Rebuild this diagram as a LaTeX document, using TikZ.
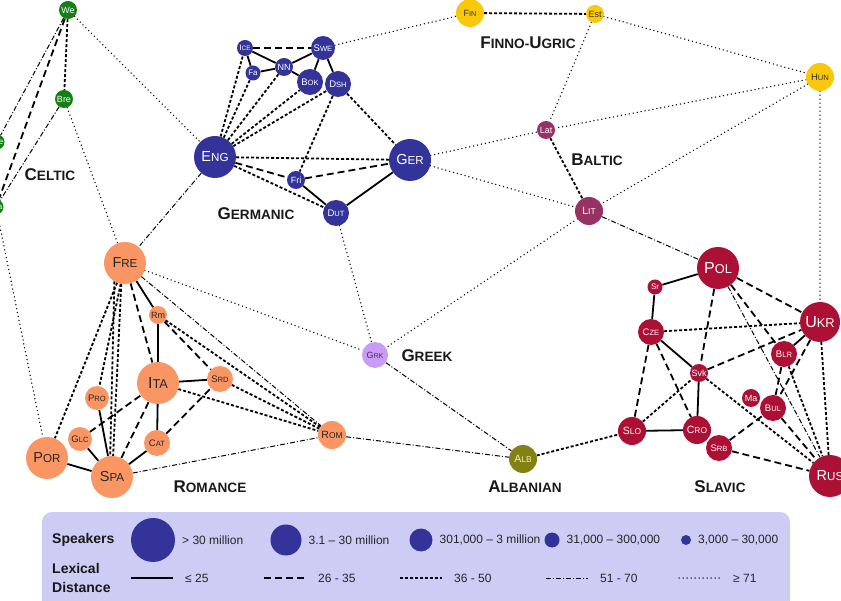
\documentclass[tikz,border=0pt]{standalone}
\usepackage{fontspec}
\setmainfont{Liberation Sans}
\usetikzlibrary{backgrounds}

\definecolor{germanic}{RGB}{51,51,153}
\definecolor{romance}{RGB}{250,150,100}
\definecolor{slavic}{RGB}{172,16,52}
\definecolor{celtic}{RGB}{18,128,18}
\definecolor{finnic}{RGB}{250,200,10}
\definecolor{baltic}{RGB}{150,50,100}
\definecolor{greek}{RGB}{200,155,245}
\definecolor{greektext}{RGB}{80,40,110}
\definecolor{albanian}{RGB}{130,130,20}
\definecolor{albaniantext}{RGB}{240,240,180}
\definecolor{legendbg}{RGB}{204,204,245}

\newcommand\fsc[2]{#1\scalebox{0.8}{#2}}

\begin{document}
\begin{tikzpicture}[x=1pt, y=-1pt,
  lang/.style = {shape=circle, inner sep=0pt},
  xl/.style = {minimum size=42pt, font=\fontsize{14.5}{14.5}\selectfont},
  lg/.style = {minimum size=28pt, font=\fontsize{10.5}{10.5}\selectfont},
  md/.style = {minimum size=26pt, font=\fontsize{9.5}{9.5}\selectfont},
  sm/.style = {minimum size=18pt, font=\fontsize{9}{9}\selectfont},
  xs/.style = {minimum size=15pt, font=\fontsize{8}{8}\selectfont},
  gerlang/.style = {lang, fill=germanic, text=white},
  romlang/.style = {lang, fill=romance, text=black!85},
  slalang/.style = {lang, fill=slavic, text=white},
  cellang/.style = {lang, fill=celtic, text=white},
  finlang/.style = {lang, fill=finnic, text=black!80},
  ballang/.style = {lang, fill=baltic, text=white},
  grklang/.style = {lang, fill=greek, text=greektext},
  alblang/.style = {lang, fill=albanian, text=albaniantext},
  grouplabel/.style = {font=\bfseries\fontsize{17}{17}\selectfont, text=black!90},
  d25/.style = {line width=1.8pt},
  d35/.style = {line width=1.8pt, dash pattern=on 7pt off 4pt},
  d50/.style = {line width=1.8pt, dash pattern=on 3pt off 2pt},
  d70/.style = {line width=1pt, dash pattern=on 5pt off 2pt on 1pt off 2pt},
  d71/.style = {line width=1.5pt, line cap=round, dash pattern=on 0pt off 4pt},
  legtext/.style = {font=\fontsize{12}{12}\selectfont, text=black!85, inner sep=0pt, anchor=west},
  legtitle/.style = {font=\bfseries\fontsize{14}{19}\selectfont, text=black!90, inner sep=0pt, anchor=west, align=left},
  spk/.style = {lang, fill=germanic}]

\useasboundingbox (0,0) rectangle (841,601);

% celtic
\node[cellang, sm] (we) at (68,10) {We};
\node[cellang, sm] (bre) at (64,99) {Bre};
\node[cellang, xs] (gle) at (-3,142) {Gle};
\node[cellang, xs] (gla) at (-4,207) {Gla};
% germanic
\node[gerlang, xs, minimum size=16pt] (ice) at (245,48) {\fsc{I}{CE}};
\node[gerlang, md, minimum size=24pt] (swe) at (323,48) {\fsc{S}{WE}};
\node[gerlang, xs] (fa) at (253,73) {Fa};
\node[gerlang, sm] (nn) at (284,67) {NN};
\node[gerlang, md] (bok) at (310,82) {\fsc{B}{OK}};
\node[gerlang, md] (dsh) at (338,84) {\fsc{D}{SH}};
\node[gerlang, xl] (eng) at (215,157) {\fsc{E}{NG}};
\node[gerlang, xl] (ger) at (410,160) {\fsc{G}{ER}};
\node[gerlang, sm] (fri) at (296,180) {Fri};
\node[gerlang, md] (dut) at (336,213) {\fsc{D}{UT}};
% finno-ugric, baltic, greek, albanian
\node[finlang, lg, font=\fontsize{9}{9}\selectfont] (fin) at (470,13) {\fsc{F}{IN}};
\node[finlang, sm] (est) at (595,14) {Est};
\node[finlang, lg, font=\fontsize{9.5}{9.5}\selectfont] (hun) at (820,77) {\fsc{H}{UN}};
\node[ballang, sm] (lat) at (546,130) {Lat};
\node[ballang, lg] (lit) at (589,211) {\fsc{L}{IT}};
\node[grklang, md, font=\fontsize{9}{9}\selectfont] (grk) at (375,355) {\fsc{G}{RK}};
\node[alblang, lg] (alb) at (523,459) {\fsc{A}{LB}};
% romance
\node[romlang, xl] (fre) at (125,263) {\fsc{F}{RE}};
\node[romlang, sm] (rm) at (158,315) {Rm};
\node[romlang, xl, font=\fontsize{16}{16}\selectfont] (ita) at (158,383) {\fsc{I}{TA}};
\node[romlang, md] (srd) at (220,379) {\fsc{S}{RD}};
\node[romlang, md, minimum size=24pt] (pro) at (97,398) {\fsc{P}{RO}};
\node[romlang, md, minimum size=24pt] (glc) at (80,439) {\fsc{G}{LC}};
\node[romlang, md] (cat) at (157,443) {\fsc{C}{AT}};
\node[romlang, xl] (por) at (47,458) {\fsc{P}{OR}};
\node[romlang, xl] (spa) at (112,477) {\fsc{S}{PA}};
\node[romlang, lg] (rom) at (332,435) {\fsc{R}{OM}};
% slavic
\node[slalang, xl, font=\fontsize{16}{16}\selectfont] (pol) at (718,268) {\fsc{P}{OL}};
\node[slalang, xs] (sr) at (655,287) {Sr};
\node[slalang, md] (cze) at (651,332) {\fsc{C}{ZE}};
\node[slalang, xl, minimum size=40pt, font=\fontsize{16}{16}\selectfont] (ukr) at (820,322) {\fsc{U}{KR}};
\node[slalang, md] (blr) at (784,354) {\fsc{B}{LR}};
\node[slalang, sm] (svk) at (699,373) {Svk};
\node[slalang, sm] (ma) at (751,398) {Ma};
\node[slalang, md] (bul) at (773,408) {\fsc{B}{UL}};
\node[slalang, lg] (slo) at (632,431) {\fsc{S}{LO}};
\node[slalang, lg] (cro) at (697,430) {\fsc{C}{RO}};
\node[slalang, md] (srb) at (719,448) {\fsc{S}{RB}};
\node[slalang, xl] (rus) at (830,476) {\fsc{R}{US}};

\node[grouplabel] (celticlab) at (50,175) {\fsc{C}{ELTIC}};
\node[grouplabel] (germaniclab) at (256,214) {\fsc{G}{ERMANIC}};
\node[grouplabel] (finniclab) at (528,43) {\fsc{F}{INNO-}\fsc{U}{GRIC}};
\node[grouplabel] (balticlab) at (597,160) {\fsc{B}{ALTIC}};
\node[grouplabel] (greeklab) at (427,356) {\fsc{G}{REEK}};
\node[grouplabel] (romancelab) at (210,487) {\fsc{R}{OMANCE}};
\node[grouplabel] (albanianlab) at (525,487) {\fsc{A}{LBANIAN}};
\node[grouplabel] (slaviclab) at (720,487) {\fsc{S}{LAVIC}};

\begin{scope}[on background layer]
  \foreach \a/\b in {ice/nn, ice/fa, fa/nn, nn/swe, nn/bok, swe/bok, swe/dsh, fri/dut, dut/ger,
      fre/rm, rm/ita, ita/srd, ita/cat, cat/spa, spa/glc, spa/por, pro/spa,
      pol/sr, sr/cze, cze/svk, svk/cro, slo/cro, ukr/blr}
    \draw[d25] (\a) -- (\b);
  \foreach \a/\b in {we/gla, ice/swe, eng/fri, fri/ger, fre/ita, glc/ita, spa/ita, cat/srd, rm/srd,
      pol/ukr, pol/svk, pol/blr, cze/slo, cze/cro, svk/ukr, ukr/bul, blr/bul, bul/rus, srb/bul, srb/rus}
    \draw[d35] (\a) -- (\b);
  \foreach \a/\b in {we/bre, fin/est, lat/lit, eng/ice, eng/fa, eng/nn, eng/bok, eng/dsh, dsh/ger,
      dsh/fri, eng/ger, eng/dut, fre/por, fre/pro, fre.-120/spa.95, fre.-100/spa.87, rm/rom, srd/rom,
      ita/rom, cze/ukr, slo/svk, svk/rus, ukr/rus, blr/rus, alb/slo}
    \draw[d50] (\a) -- (\b);
  \foreach \a/\b in {we/gle, bre/gla, eng/fre, fre/rom, spa/rom, rom/alb, grk/alb, lit/pol, pol/rus}
    \draw[d70] (\a) -- (\b);
  \foreach \a/\b in {we/eng, bre/fre, gla/por, swe/fin, est/hun, est/lat, ger/lat, ger/lit, hun/lat,
      hun/lit, hun/ukr, lit/grk, dut/grk, fre/grk}
    \draw[d71] (\a) -- (\b);
\end{scope}

% legend
\fill[legendbg, rounded corners=10pt] (42,512) rectangle (790,610);
\node[legtitle] (speakers) at (52,540) {Speakers};
\node[legtitle] (distance) at (52,578) {Lexical\\Distance};
\foreach \x/\d/\lab [count=\i] in {153/44/> 30 million, 286/31/3.1 – 30 million,
    421/23/{301,000 – 3 million}, 552/15/{31,000 – 300,000}, 686/10/{3,000 – 30,000}} {
  \node[spk, minimum size=\d pt] (sp\i) at (\x,540) {};
  \node[legtext] (st\i) at (\x+\d/2+7,540) {\lab};
}
\foreach \st/\x/\lab [count=\i] in {d25/131/≤ 25, d35/264/26 - 35, d50/400/36 - 50,
    d70/546/51 - 70, d71/679/≥ 71} {
  \coordinate (la\i) at (\x,578);
  \coordinate (lb\i) at (\x+42,578);
  \draw[\st] (la\i) -- (lb\i);
  \node[legtext] (lt\i) at (\x+54,578) {\lab};
}
\end{tikzpicture}
\end{document}
